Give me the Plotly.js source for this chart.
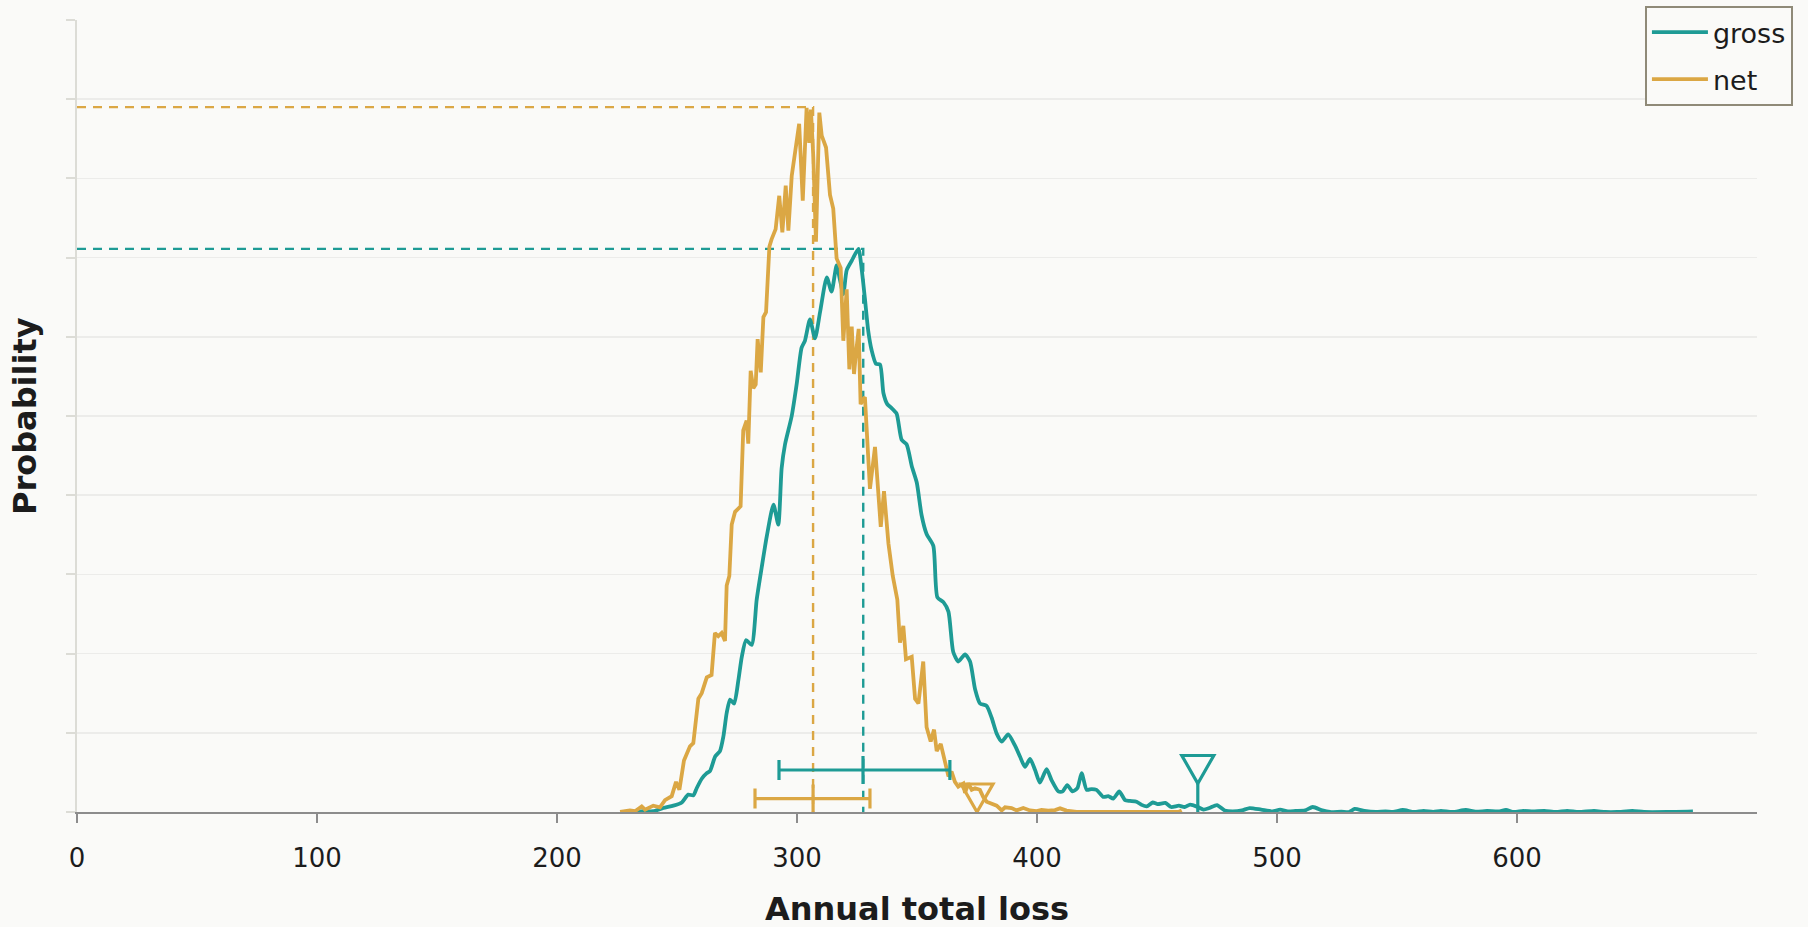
<!DOCTYPE html>
<html>
<head>
<meta charset="utf-8">
<script src="https://cdn.plot.ly/plotly-3.0.1.min.js"></script>
<style>
  html, body { margin: 0; padding: 0; background: #fafaf8; }
  #chart { width: 1808px; height: 927px; }
</style>
</head>
<body>
<div id="chart"></div>
<script>
// ---- data (probability in grid units) ----
var grossX = [233.0,236.0,240.2,244.3,248.5,252.0,254.7,256.8,258.2,260.3,262.4,263.8,265.9,267.9,269.3,270.7,272.1,273.8,275.6,277.0,278.8,281.1,283.2,285.3,287.4,290.2,292.2,293.6,295.0,297.8,299.9,301.9,303.3,305.4,307.5,309.6,312.4,314.4,316.5,317.9,319.3,320.7,322.8,325.6,327.0,328.3,329.7,331.1,332.9,334.6,336.0,337.6,339.4,341.5,343.6,345.7,347.8,349.9,351.9,354.0,356.8,358.5,361.0,363.1,365.1,367.2,370.0,372.1,374.2,376.25,379.0,381.1,383.2,385.3,388.0,390.8,392.9,395.0,397.1,399.2,401.2,404.0,406.1,408.9,410.7,412.6,414.8,416.8,418.6,420.7,422.8,424.8,427.6,429.7,431.8,434.3,436.7,438.7,441.5,443.6,445.7,448.2,450.3,453.5,455.9,459.1,461.5,463.8,467.0,469.4,471.8,475.0,478.2,481.4,485.4,488.6,493.4,498.1,501.3,504.5,507.7,511.7,514.9,518.9,522.1,526.8,530.0,532.4,536.4,541.2,545.2,548.4,552.4,557.1,561.1,565.1,568.3,573.1,578.7,582.7,587.5,592.2,595.4,598.6,602.6,606.6,611.4,616.2,620.9,625.7,632.1,636.9,641.7,648.1,652.9,662.4,673.3];
var grossY = [0.0,0.01,0.01,0.05,0.08,0.12,0.22,0.21,0.30,0.42,0.49,0.52,0.70,0.77,0.95,1.25,1.42,1.37,1.67,1.96,2.17,2.11,2.68,3.09,3.48,3.88,3.63,4.34,4.64,5.0,5.41,5.86,5.95,6.22,5.98,6.31,6.75,6.57,6.9,6.72,6.54,6.84,6.96,7.11,6.84,6.48,6.07,5.83,5.66,5.65,5.29,5.15,5.1,5.03,4.70,4.64,4.37,4.16,3.75,3.51,3.36,2.71,2.65,2.53,2.02,1.9,1.99,1.9,1.55,1.37,1.34,1.19,0.99,0.89,0.98,0.84,0.70,0.57,0.67,0.53,0.37,0.54,0.40,0.26,0.26,0.34,0.26,0.30,0.49,0.28,0.29,0.28,0.19,0.20,0.17,0.26,0.15,0.14,0.13,0.09,0.07,0.12,0.10,0.114,0.063,0.08,0.063,0.093,0.063,0.03,0.05,0.088,0.02,0.008,0.02,0.05,0.03,0.008,0.03,0.008,0.013,0.02,0.063,0.02,0.0,0.004,0.0,0.038,0.013,0.0,0.008,0.0,0.025,0.0,0.013,0.0,0.013,0.0,0.025,0.004,0.013,0.008,0.025,0.0,0.013,0.008,0.013,0.0,0.013,0.0,0.013,0.0,0.0,0.013,0.0,0.0,0.008];

var netX = [226.3,230.4,232.5,235.3,236.7,240.1,242.9,245.0,247.8,249.6,251.0,252.9,255.4,256.8,258.9,260.3,262.4,264.4,265.8,267.2,268.6,270.0,270.7,271.8,272.8,274.2,276.5,277.6,279.0,279.7,280.7,281.8,282.8,283.6,284.9,286.0,287.1,288.5,289.4,291.1,292.6,293.9,295.3,296.4,297.8,299.2,300.9,302.4,304.0,305.1,305.8,306.8,307.9,309.3,310.3,312.1,313.75,315.1,316.5,318.2,319.3,320.7,321.8,322.8,323.75,324.6,325.7,326.5,328.3,330.4,332.5,334.9,336.25,338.1,339.9,341.8,342.9,344.3,345.4,347.8,349.2,350.6,352.6,354.0,355.7,357.1,358.2,359.9,361.7,363.1,364.4,365.8,367.2,369.3,370.0,371.4,372.8,374.2,376.2,377.6,379.0,381.1,383.2,385.3,386.7,389.4,391.5,394.3,397.1,399.8,401.9,404.7,407.5,409.6,412.3,416.5,425.0,440.0,450.0,458.9,460.3];
var netY = [0.0,0.02,0.01,0.07,0.03,0.08,0.06,0.15,0.2,0.38,0.28,0.65,0.83,0.87,1.43,1.50,1.70,1.73,2.26,2.22,2.26,2.16,2.86,2.98,3.63,3.79,3.86,4.82,4.94,4.65,5.57,5.35,5.40,5.97,5.55,6.25,6.31,7.14,7.23,7.36,7.78,7.32,7.91,7.34,8.03,8.36,8.69,7.72,8.89,8.45,8.87,8.27,7.2,8.83,8.54,8.39,7.79,7.62,6.99,6.87,5.95,6.6,5.59,6.13,5.53,5.8,6.1,5.15,5.24,4.08,4.61,3.6,4.05,3.39,2.98,2.68,2.14,2.35,1.93,1.96,1.43,1.37,1.9,1.07,0.89,1.04,0.77,0.86,0.65,0.45,0.51,0.38,0.32,0.36,0.24,0.36,0.28,0.30,0.28,0.19,0.13,0.11,0.08,0.02,0.06,0.05,0.02,0.05,0.02,0.01,0.025,0.017,0.025,0.046,0.017,0.0,0.0,0.0,0.0,0.0,0.02];

var seriesNames = ['gross', 'net'];
var modeX = [327.6, 306.7];      // x of the dashed guide lines
var modeY = [7.11, 8.90];        // peak height of the dashed guide lines
var errCenter = [327.5, 306.7];  // centre of the interval bars
var errLow = [292.5, 282.5];
var errHigh = [363.7, 330.4];
var errY = [0.53, 0.17];
var varX = [467.0, 375.0];       // triangle markers
var varY = [0.36, 0.0];

var xTicks = [0, 100, 200, 300, 400, 500, 600];
var yTicks = [0, 1, 2, 3, 4, 5, 6, 7, 8, 9, 10];

// ---- styles ----
var colors = ['#1e9b95', '#dba744'];
var FONT = 'DejaVu Sans, Verdana, sans-serif';
var BG = '#fafaf8';

var traces = [];
// dashed guide lines
for (var i = 0; i < 2; i++) {
  traces.push({
    x: [0, modeX[i], modeX[i]], y: [modeY[i], modeY[i], 0],
    mode: 'lines', type: 'scatter', showlegend: false, hoverinfo: 'skip',
    line: { color: colors[i], width: 2.4, dash: '9px,7px' }
  });
}
// curves
traces.push({ x: grossX, y: grossY, name: seriesNames[0], type: 'scatter', mode: 'lines',
  legendgroup: 'g',
  line: { color: colors[0], width: 3.8, shape: 'spline', smoothing: 0.6 } });
traces.push({ x: netX, y: netY, name: seriesNames[1], type: 'scatter', mode: 'lines',
  legendgroup: 'n',
  line: { color: colors[1], width: 3.8 } });
// interval bars
for (var j = 0; j < 2; j++) {
  traces.push({
    x: [errCenter[j]], y: [errY[j]], type: 'scatter', mode: 'markers', showlegend: false, hoverinfo: 'skip',
    marker: { symbol: 'line-ns', size: 20, line: { color: colors[j], width: 3.2 } },
    error_x: { type: 'data', symmetric: false,
      array: [errHigh[j] - errCenter[j]], arrayminus: [errCenter[j] - errLow[j]],
      color: colors[j], thickness: 3.2, width: 10 }
  });
}
// stems for the triangle markers
for (var k = 0; k < 2; k++) {
  traces.push({
    x: [varX[k], varX[k]], y: [0, varY[k]], type: 'scatter', mode: 'lines', showlegend: false, hoverinfo: 'skip',
    line: { color: colors[k], width: 3.2 }
  });
}

var shapes = [];
for (var m = 0; m < 2; m++) {
  shapes.push({
    type: 'path', xref: 'x', yref: 'y', xsizemode: 'pixel', ysizemode: 'pixel',
    xanchor: varX[m], yanchor: varY[m],
    path: 'M-16,28 L16,28 L0,0 Z',
    line: { color: colors[m], width: 3.2 }, fillcolor: 'rgba(0,0,0,0)'
  });
}

var layout = {
  width: 1808, height: 927,
  margin: { l: 77, r: 51, t: 20, b: 115, autoexpand: false },
  paper_bgcolor: BG, plot_bgcolor: BG,
  font: { family: FONT, color: '#1c1c1c', size: 26 },
  showlegend: true,
  legend: {
    x: 0.9333, y: 1.0177, xanchor: 'left', yanchor: 'top',
    bgcolor: BG, bordercolor: '#8f8a78', borderwidth: 2,
    font: { family: FONT, size: 27, color: '#1c1c1c' },
    itemwidth: 56, traceorder: 'grouped', tracegroupgap: 9
  },
  xaxis: {
    range: [0, 700], tickvals: xTicks, ticktext: xTicks.map(String),
    ticks: 'outside', ticklen: 9, tickwidth: 2, tickcolor: '#8c8c8c',
    showline: true, linecolor: '#8c8c8c', linewidth: 2,
    showgrid: false, zeroline: false, ticklabelstandoff: 13,
    tickfont: { family: FONT, size: 26, color: '#1c1c1c' }
  },
  yaxis: {
    range: [0, 10], tickvals: yTicks, showticklabels: false,
    ticks: 'outside', ticklen: 9, tickwidth: 2, tickcolor: '#dcdcd6',
    showline: true, linecolor: '#dcdcd6', linewidth: 2,
    showgrid: true, gridcolor: '#ececea', gridwidth: 1.5, zeroline: false
  },
  shapes: shapes,
  annotations: [
    { text: '<b>Annual total loss</b>', xref: 'paper', yref: 'paper', x: 0.5, y: 0,
      xanchor: 'center', yanchor: 'middle', yshift: -97, showarrow: false,
      font: { family: FONT, size: 32, color: '#1c1c1c' } },
    { text: '<b>Probability</b>', xref: 'paper', yref: 'paper', x: 0, y: 0.5,
      xanchor: 'center', yanchor: 'middle', xshift: -52, textangle: -90, showarrow: false,
      font: { family: FONT, size: 32, color: '#1c1c1c' } }
  ]
};

Plotly.newPlot('chart', traces, layout, { displayModeBar: false, staticPlot: true });
</script>
</body>
</html>
